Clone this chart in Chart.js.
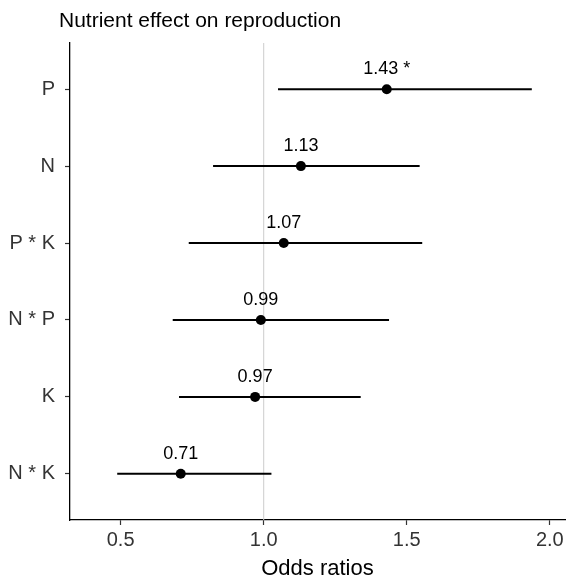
<!DOCTYPE html>
<html>
<head>
<meta charset="utf-8">
<script src="https://cdn.jsdelivr.net/npm/chart.js@4"></script>
<style>
  html, body { margin: 0; padding: 0; background: #fff; }
</style>
</head>
<body>
<canvas id="grafico" width="566" height="576"></canvas>
<script>
// termos de cima para baixo
const termos = ['P', 'N', 'P * K', 'N * P', 'K', 'N * K'];
const estimativa = [1.43, 1.13, 1.07, 0.99, 0.97, 0.71];
const inferior = [1.05, 0.823, 0.738, 0.682, 0.704, 0.488];
const superior = [1.937, 1.545, 1.554, 1.438, 1.339, 1.027];
const signif = ['*', '', '', '', '', ''];
const ticksX = [0.5, 1.0, 1.5, 2.0];
const linhaRef = 1;

const n = termos.length;
const fonte = '"Liberation Sans", Arial, sans-serif';

// Linhas dos intervalos (uma por termo)
const intervalos = termos.map((t, i) => ({
  label: t,
  data: [{ x: inferior[i], y: n - i }, { x: superior[i], y: n - i }],
  showLine: true,
  borderColor: '#000',
  borderWidth: 2,
  pointRadius: 0,
  order: 1
}));

const rotulos = {
  id: 'rotulos',
  afterDatasetsDraw(chart) {
    const { ctx, scales } = chart;
    ctx.save();
    // valores acima dos pontos
    ctx.font = '18px ' + fonte;
    ctx.fillStyle = '#000';
    ctx.textAlign = 'center';
    ctx.textBaseline = 'alphabetic';
    estimativa.forEach((v, i) => {
      const txt = v.toFixed(2) + (signif[i] ? ' ' + signif[i] : '');
      ctx.fillText(txt, scales.x.getPixelForValue(v), scales.y.getPixelForValue(n - i) - 15);
    });
    // titulo
    ctx.font = '21px ' + fonte;
    ctx.textAlign = 'left';
    ctx.fillText('Nutrient effect on reproduction', 59, 27);
    ctx.restore();
  }
};

new Chart(document.getElementById('grafico'), {
  type: 'scatter',
  data: {
    datasets: [
      {
        label: 'estimativa',
        data: termos.map((t, i) => ({ x: estimativa[i], y: n - i })),
        pointRadius: 5,
        pointBackgroundColor: '#000',
        pointBorderColor: '#000',
        pointBorderWidth: 0,
        showLine: false,
        order: 0
      },
      ...intervalos,
      {
        label: 'referencia',
        data: [{ x: linhaRef, y: 0.4 }, { x: linhaRef, y: n + 0.6 }],
        showLine: true,
        borderColor: '#cccccc',
        borderWidth: 1,
        pointRadius: 0,
        order: 2
      }
    ]
  },
  options: {
    responsive: false,
    animation: false,
    events: [],
    layout: {
      autoPadding: false,
      padding: { top: 43, right: 1, left: 0, bottom: 0 }
    },
    plugins: {
      legend: { display: false },
      tooltip: { enabled: false }
    },
    scales: {
      x: {
        type: 'linear',
        min: 0.323,
        max: 2.053,
        afterBuildTicks: (s) => { s.ticks = ticksX.map(v => ({ value: v })); },
        afterFit: (s) => { s.height = 56; s.paddingLeft = 0; s.paddingRight = 0; },
        ticks: {
          font: { family: fonte, size: 20 },
          color: '#333',
          padding: 3,
          maxRotation: 0,
          autoSkip: false,
          callback: (v) => Number(v).toFixed(1)
        },
        grid: {
          drawOnChartArea: false,
          drawTicks: true,
          tickLength: 5,
          tickColor: '#333',
          tickWidth: 1.2
        },
        border: { display: true, color: '#000', width: 1.3 },
        title: {
          display: true,
          text: 'Odds ratios',
          color: '#000',
          font: { family: fonte, size: 22, lineHeight: 0.6 },
          padding: 0
        }
      },
      y: {
        type: 'linear',
        min: 0.4,
        max: n + 0.6,
        afterBuildTicks: (s) => { s.ticks = termos.map((t, i) => ({ value: n - i })); },
        afterFit: (s) => { s.width = 70; },
        ticks: {
          font: { family: fonte, size: 20 },
          color: '#333',
          padding: 10,
          autoSkip: false,
          callback: (v) => termos[n - v]
        },
        grid: {
          drawOnChartArea: false,
          drawTicks: true,
          tickLength: 5,
          tickColor: '#333',
          tickWidth: 1.2
        },
        border: { display: true, color: '#000', width: 1.3 }
      }
    }
  },
  plugins: [rotulos]
});
</script>
</body>
</html>
